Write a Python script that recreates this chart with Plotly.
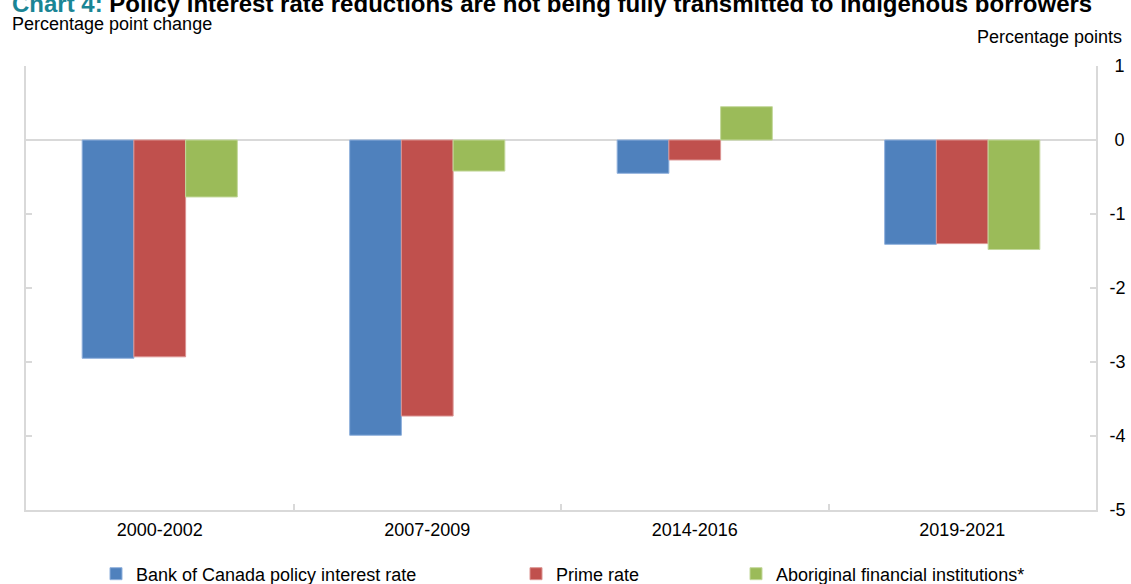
import plotly.graph_objects as go

categories = ["2000-2002", "2007-2009", "2014-2016", "2019-2021"]
boc_policy = [-2.95, -3.99, -0.45, -1.41]
prime_rate = [-2.93, -3.73, -0.27, -1.40]
aboriginal_fi = [-0.77, -0.42, 0.45, -1.48]
y_tickvals = [1, 0, -1, -2, -3, -4, -5]
y_ticktext = ["\u00a01", "\u00a00", "-1", "-2", "-3", "-4", "-5"]

W, H = 1131, 584
ML, MR, MT, MB = 26, 35, 66, 74
FONT = "Liberation Sans, Arial, sans-serif"

series = [
    ("Bank of Canada policy interest rate", boc_policy, "#4f81bd", "#8fb0dc", "legend"),
    ("Prime rate", prime_rate, "#c0504d", "#dc9492", "legend2"),
    ("Aboriginal financial institutions*", aboriginal_fi, "#9bbb59", "#c3d89c", "legend3"),
]

fig = go.Figure()
for name, vals, col, edge, leg in series:
    fig.add_trace(go.Bar(
        x=categories, y=vals, name=name,
        marker=dict(color=col, line=dict(color=edge, width=1)),
        legend=leg, showlegend=True,
    ))

def legend_cfg(px):
    return dict(
        x=px / W, xref="container", xanchor="left",
        y=1 - 574 / H, yref="container", yanchor="middle",
        orientation="h", bgcolor="rgba(0,0,0,0)", borderwidth=0,
        font=dict(family=FONT, size=18, color="#000000"),
        itemwidth=30, visible=True,
    )

def px_to_paper(px, py):
    return (px - ML) / (W - ML - MR), 1 - (py - MT) / (H - MT - MB)

tx, ty = px_to_paper(10, 3)
sx, sy = px_to_paper(10, 24)
rx, ry = px_to_paper(1124, 37)

fig.update_layout(
    width=W, height=H,
    margin=dict(l=ML, r=MR, t=MT, b=MB, autoexpand=False),
    paper_bgcolor="white", plot_bgcolor="white",
    showlegend=True,
    barmode="group", bargap=0.42, bargroupgap=0,
    font=dict(family=FONT, size=18, color="#000000"),
    legend=legend_cfg(96),
    legend2=legend_cfg(516),
    legend3=legend_cfg(736),
    xaxis=dict(
        type="category",
        showline=True, linecolor="#d9d9d9", linewidth=2,
        ticks="inside", tickson="boundaries", ticklen=6, tickcolor="#d9d9d9", tickwidth=1.5,
        showgrid=False, zeroline=False,
        tickfont=dict(family=FONT, size=18, color="#000000"),
        ticklabelstandoff=2,
    ),
    yaxis=dict(
        side="right", range=[-5, 1],
        tickvals=y_tickvals, ticktext=y_ticktext,
        showline=True, linecolor="#d9d9d9", linewidth=2, mirror="ticks",
        ticks="inside", ticklen=6, tickcolor="#d9d9d9", tickwidth=1.5,
        showgrid=False,
        zeroline=True, zerolinecolor="#d9d9d9", zerolinewidth=2,
        tickfont=dict(family=FONT, size=18, color="#000000"),
        ticklabelstandoff=8,
    ),
    annotations=[
        dict(
            text="<b><span style='color:#1a8595'>Chart 4:</span> Policy interest rate reductions are not being fully transmitted to Indigenous borrowers</b>",
            xref="paper", yref="paper", x=tx, y=ty,
            xanchor="left", yanchor="middle", showarrow=False,
            font=dict(family=FONT, size=24, color="#000000"),
        ),
        dict(
            text="Percentage point change",
            xref="paper", yref="paper", x=sx, y=sy,
            xanchor="left", yanchor="middle", showarrow=False,
            font=dict(family=FONT, size=18, color="#000000"),
        ),
        dict(
            text="Percentage points",
            xref="paper", yref="paper", x=rx, y=ry,
            xanchor="right", yanchor="middle", showarrow=False,
            font=dict(family=FONT, size=18, color="#000000"),
        ),
    ],
)

fig.write_html("out.html")
